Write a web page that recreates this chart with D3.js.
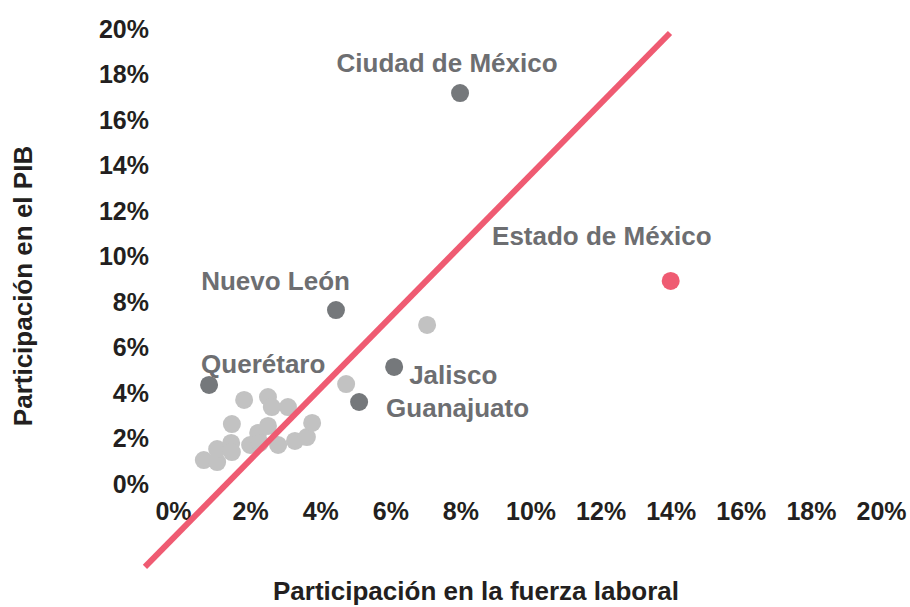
<!DOCTYPE html>
<html>
<head>
<meta charset="utf-8">
<script src="https://cdn.jsdelivr.net/npm/d3@7/dist/d3.min.js"></script>
<style>
  body { margin: 0; background: #fff; }
  svg { display: block; font-family: 'Liberation Sans', Arial, Helvetica, sans-serif; }
</style>
</head>
<body>
<script>
'use strict';

const width = 910;
const height = 607;

// tick values (%)
const xTicks = [0, 2, 4, 6, 8, 10, 12, 14, 16, 18, 20];
const yTicks = [0, 2, 4, 6, 8, 10, 12, 14, 16, 18, 20];

// other states (labor force share %, GDP share %)
const otherX = [0.68, 1.06, 1.06, 1.46, 1.48, 1.48, 1.83, 2.51, 2.62, 3.08, 2.23, 2.51, 2.00, 2.28, 2.80, 3.28, 3.62, 3.77, 4.74, 7.05];
const otherY = [1.01, 0.92, 1.49, 1.76, 1.36, 2.59, 3.65, 3.78, 3.34, 3.34, 2.20, 2.51, 1.67, 1.76, 1.67, 1.85, 2.02, 2.64, 4.35, 6.95];

// labelled states
const named = ['Ciudad de México', 'Nuevo León', 'Querétaro', 'Jalisco', 'Guanajuato', 'Estado de México'];
const namedX = [7.99, 4.45, 0.83, 6.11, 5.11, 14.0];
const namedY = [17.14, 7.60, 4.31, 5.10, 3.56, 8.88];

// reference line end points
const lineX = [-1.0, 13.98];
const lineY = [-3.69, 19.78];

const pink = '#ef5b72';
const dark = '#75787b';
const light = '#c2c2c2';

const svg = d3.select('body')
  .append('svg')
  .attr('width', width)
  .attr('height', height);

const x = d3.scaleLinear().domain([0, 20]).range([180, 881]);
const y = d3.scaleLinear().domain([0, 20]).range([483, 28]);

const xAxis = d3.axisBottom(x)
  .tickValues(xTicks)
  .tickSize(0)
  .tickPadding(0)
  .tickFormat((d) => d + '%');

const yAxis = d3.axisLeft(y)
  .tickValues(yTicks)
  .tickSize(0)
  .tickPadding(0)
  .tickFormat((d) => d + '%');

const gx = svg.append('g')
  .attr('transform', 'translate(0, 520)')
  .call(xAxis);
gx.select('.domain').remove();
gx.selectAll('text')
  .attr('dy', null)
  .attr('y', 0)
  .attr('dx', (d) => d === 0 ? -7 : 0)
  .attr('font-size', '25px')
  .attr('font-weight', 'bold')
  .attr('font-family', "'Liberation Sans', Arial, sans-serif")
  .attr('fill', '#231f20');

const gy = svg.append('g')
  .attr('transform', 'translate(149, 0)')
  .call(yAxis);
gy.select('.domain').remove();
gy.selectAll('text')
  .attr('dy', '0.36em')
  .attr('font-size', '25px')
  .attr('font-weight', 'bold')
  .attr('font-family', "'Liberation Sans', Arial, sans-serif")
  .attr('fill', '#231f20');

// axis titles
svg.append('text')
  .attr('x', 476)
  .attr('y', 600)
  .attr('text-anchor', 'middle')
  .attr('font-size', '26px')
  .attr('font-weight', 'bold')
  .attr('fill', '#231f20')
  .text('Participación en la fuerza laboral');

svg.append('text')
  .attr('transform', 'translate(32, 286) rotate(-90)')
  .attr('text-anchor', 'middle')
  .attr('font-size', '26px')
  .attr('font-weight', 'bold')
  .attr('fill', '#231f20')
  .text('Participación en el PIB');

// other states
svg.selectAll('circle.other')
  .data(otherX.map((d, i) => ({ x: d, y: otherY[i] })))
  .enter()
  .append('circle')
  .attr('class', 'other')
  .attr('cx', (d) => x(d.x))
  .attr('cy', (d) => y(d.y))
  .attr('r', 9)
  .attr('fill', light);

// diagonal
svg.append('line')
  .attr('x1', x(lineX[0]))
  .attr('y1', y(lineY[0]))
  .attr('x2', x(lineX[1]))
  .attr('y2', y(lineY[1]))
  .attr('stroke', pink)
  .attr('stroke-width', 6);

// labelled states
const labelPos = [
  { dx: -13, dy: -21, anchor: 'middle' },
  { dx: 14, dy: -20, anchor: 'end' },
  { dx: -8, dy: -12, anchor: 'start' },
  { dx: 15, dy: 17, anchor: 'start' },
  { dx: 27, dy: 15, anchor: 'start' },
  { dx: 41, dy: -36, anchor: 'end' }
];

const namedData = named.map((n, i) => ({ name: n, x: namedX[i], y: namedY[i] }));

svg.selectAll('circle.named')
  .data(namedData)
  .enter()
  .append('circle')
  .attr('class', 'named')
  .attr('cx', (d) => x(d.x))
  .attr('cy', (d) => y(d.y))
  .attr('r', 9)
  .attr('fill', (d) => d.name === 'Estado de México' ? pink : dark);

svg.selectAll('text.label')
  .data(namedData)
  .enter()
  .append('text')
  .attr('class', 'label')
  .attr('x', (d, i) => x(d.x) + labelPos[i].dx)
  .attr('y', (d, i) => y(d.y) + labelPos[i].dy)
  .attr('text-anchor', (d, i) => labelPos[i].anchor)
  .attr('font-size', '26px')
  .attr('font-weight', 'bold')
  .attr('fill', '#6d6e71')
  .text((d) => d.name);
</script>
</body>
</html>
